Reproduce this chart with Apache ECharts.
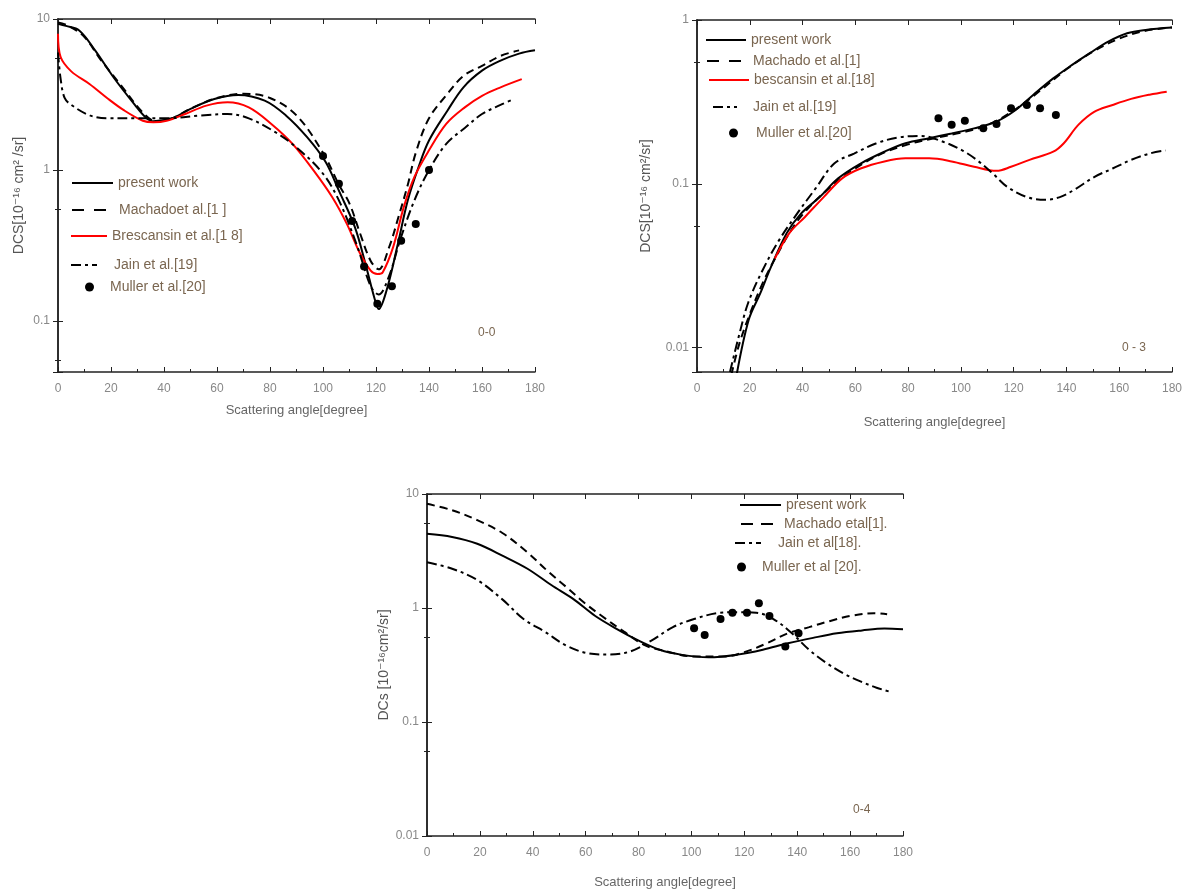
<!DOCTYPE html>
<html>
<head>
<meta charset="utf-8">
<script src="https://cdn.jsdelivr.net/npm/echarts@6/dist/echarts.min.js"></script>
<style>
  html, body { margin: 0; padding: 0; background: #fff; }
  #chart { width: 1187px; height: 890px; }
</style>
</head>
<body>
<div id="chart"></div>
<script>
// ---- panel 0-0 ----
var p1PresentX = [0, 3, 8, 14, 21, 29, 33, 36, 43, 50, 59, 68, 78, 86, 94, 101, 106, 112, 116, 119.5, 121, 124, 128, 132, 136, 140, 147, 153, 160, 167, 174, 180];
var p1PresentY = [9.3, 9.0, 8.4, 6.2, 4.1, 2.7, 2.24, 2.1, 2.2, 2.54, 2.95, 3.14, 2.88, 2.3, 1.65, 1.13, 0.73, 0.42, 0.24, 0.14, 0.12, 0.16, 0.31, 0.63, 1.04, 1.57, 2.48, 3.53, 4.55, 5.3, 5.9, 6.2];
var p1MachadoX = [0, 4, 10, 16, 24, 32, 37, 43, 50, 60, 70, 80, 90, 100, 106, 110, 114, 118, 121, 125, 128.5, 132, 135, 140, 147, 153, 160, 167, 174];
var p1MachadoY = [9.5, 9.0, 7.6, 5.4, 3.6, 2.4, 2.1, 2.2, 2.55, 3.0, 3.2, 3.0, 2.3, 1.3, 0.8, 0.6, 0.38, 0.25, 0.22, 0.31, 0.49, 0.8, 1.3, 2.2, 3.2, 4.2, 4.9, 5.7, 6.2];
var p1BrescX = [0, 1, 5, 12, 18.5, 25, 32, 36, 41, 48, 56, 64, 72, 80.5, 88.5, 96.5, 103.5, 109, 114, 118, 120.5, 122.5, 126.5, 130.5, 134.5, 140, 146.5, 153.5, 160, 167, 175];
var p1BrescY = [8.0, 5.6, 4.5, 3.7, 3.0, 2.48, 2.12, 2.07, 2.12, 2.35, 2.67, 2.81, 2.6, 2.02, 1.49, 0.99, 0.66, 0.44, 0.28, 0.216, 0.205, 0.21, 0.31, 0.57, 0.9, 1.35, 2.02, 2.6, 3.1, 3.53, 4.0];
var p1JainX = [0, 1, 2.5, 5, 12, 18.5, 30, 41, 54, 64, 72, 82, 90, 99.5, 106, 113, 118, 121, 125, 129, 134.5, 140, 146.5, 153.5, 160, 167, 172];
var p1JainY = [6.0, 4.0, 3.0, 2.7, 2.3, 2.2, 2.2, 2.2, 2.3, 2.35, 2.2, 1.78, 1.41, 0.97, 0.63, 0.31, 0.17, 0.15, 0.2, 0.34, 0.63, 1.0, 1.49, 1.9, 2.35, 2.7, 2.95];
var p1MullerX = [100, 106, 111, 115.5, 120.5, 126, 129.5, 135, 140];
var p1MullerY = [1.24, 0.81, 0.46, 0.23, 0.13, 0.17, 0.34, 0.44, 1.0];

// ---- panel 0-3 ----
var p2PresentX = [15, 19.6, 24, 28, 34, 39.5, 46.5, 53.5, 62, 71, 79, 88, 96.5, 105, 113.5, 120.5, 127.5, 135, 142, 149, 156, 163, 170, 180];
var p2PresentY = [0.0068, 0.0148, 0.0215, 0.031, 0.05, 0.066, 0.083, 0.108, 0.133, 0.157, 0.177, 0.19, 0.203, 0.218, 0.24, 0.28, 0.35, 0.44, 0.53, 0.63, 0.74, 0.83, 0.87, 0.9];
var p2MachadoX = [13, 16, 20, 25, 30, 35, 40, 50, 60, 70, 80, 90, 100, 110, 120, 130, 140, 150, 160, 170, 180];
var p2MachadoY = [0.0068, 0.0105, 0.016, 0.025, 0.036, 0.05, 0.065, 0.094, 0.124, 0.153, 0.174, 0.19, 0.205, 0.228, 0.28, 0.37, 0.5, 0.64, 0.77, 0.86, 0.9];
var p2BrescX = [29.5, 35, 41, 48, 55, 62, 71, 79, 88, 96.5, 105, 113.5, 119, 126, 135, 139, 144.5, 150.5, 157.5, 164.5, 171.5, 178];
var p2BrescY = [0.035, 0.05, 0.063, 0.083, 0.108, 0.124, 0.137, 0.143, 0.143, 0.137, 0.127, 0.12, 0.127, 0.14, 0.157, 0.177, 0.229, 0.275, 0.303, 0.33, 0.35, 0.365];
var p2JainX = [12.5, 16, 19.5, 25, 31, 38, 45, 52, 59.5, 68, 76.5, 85, 93.5, 100.5, 106, 112, 117.5, 125, 132, 137.5, 143, 150.5, 157.5, 164.5, 171.5, 177.5];
var p2JainY = [0.0071, 0.012, 0.019, 0.03, 0.045, 0.066, 0.094, 0.133, 0.153, 0.177, 0.192, 0.196, 0.18, 0.16, 0.14, 0.116, 0.096, 0.083, 0.08, 0.083, 0.092, 0.11, 0.124, 0.14, 0.153, 0.16];
var p2MullerX = [91.5, 96.5, 101.5, 108.5, 113.5, 119, 125, 130, 136];
var p2MullerY = [0.251, 0.229, 0.243, 0.218, 0.232, 0.289, 0.303, 0.289, 0.263];

// ---- panel 0-4 ----
var p3PresentX = [0, 9.5, 19, 28.5, 38, 47, 55.5, 63.5, 71.5, 79.5, 88, 96, 106.5, 117.5, 127, 136.5, 146, 155, 164.5, 173, 180];
var p3PresentY = [4.47, 4.2, 3.66, 2.88, 2.21, 1.59, 1.19, 0.855, 0.66, 0.525, 0.43, 0.39, 0.37, 0.39, 0.43, 0.49, 0.547, 0.6, 0.636, 0.66, 0.65];
var p3MachadoX = [0, 9.5, 19, 28.5, 38, 46, 52.5, 59.5, 66, 74.5, 82.5, 90.5, 101, 112, 120, 128.5, 136.5, 144.5, 152.5, 160.5, 169, 174];
var p3MachadoY = [8.2, 7.2, 5.9, 4.55, 3.07, 2.07, 1.54, 1.11, 0.855, 0.62, 0.47, 0.417, 0.375, 0.375, 0.41, 0.49, 0.6, 0.68, 0.77, 0.855, 0.9, 0.88];
var p3JainX = [0, 9.5, 19, 28.5, 36.5, 44.5, 52.5, 61, 69, 77, 85, 93, 101, 109.5, 117.5, 124.5, 131, 138, 144.5, 151, 158, 164.5, 170, 175.5];
var p3JainY = [2.52, 2.21, 1.76, 1.19, 0.8, 0.62, 0.47, 0.4, 0.39, 0.417, 0.52, 0.68, 0.8, 0.9, 0.92, 0.91, 0.8, 0.6, 0.43, 0.33, 0.263, 0.224, 0.2, 0.183];
var p3MullerX = [101, 105, 111, 115.5, 121, 125.5, 129.5, 135.5, 140.5];
var p3MullerY = [0.665, 0.58, 0.8, 0.91, 0.91, 1.1, 0.85, 0.46, 0.6];

var xTicks = [0, 20, 40, 60, 80, 100, 120, 140, 160, 180];
var yRanges = [[0.046, 10], [0.0071, 1], [0.01, 10]];

var FONT = '"Liberation Sans", Arial, "DejaVu Sans", sans-serif';
var LEG_COLOR = '#7a6650';
var AX_COLOR = '#222';

function pairs(xs, ys) {
  return xs.map(function (x, i) { return [x, ys[i]]; });
}

function decadeLabel(v) {
  var l = Math.log10(v);
  if (Math.abs(l - Math.round(l)) > 1e-6) return '';
  return String(Math.pow(10, Math.round(l)));
}

var grids = [
  { left: 58, top: 19, width: 477, height: 353 },
  { left: 697, top: 20, width: 475, height: 352 },
  { left: 427, top: 494, width: 476, height: 342 }
];
var xNameGap = [32, 44, 40];
var yNameGap = [32, 44, 36];
var yNames = ['DCS[10⁻¹⁶ cm² /sr]', 'DCS[10⁻¹⁶ cm²/sr]', 'DCs [10⁻¹⁶cm²/sr]'];

var xAxes = [], yAxes = [];
grids.forEach(function (g, i) {
  xAxes.push({
    type: 'value', gridIndex: i, position: 'bottom',
    min: xTicks[0], max: xTicks[xTicks.length - 1], interval: 20,
    name: 'Scattering angle[degree]', nameLocation: 'middle', nameGap: xNameGap[i],
    nameTextStyle: { color: '#666', fontSize: 13, fontFamily: FONT },
    axisLine: { lineStyle: { color: AX_COLOR, width: 1.5 } },
    axisTick: { inside: true, length: 5, lineStyle: { color: AX_COLOR } },
    minorTick: { show: true, splitNumber: 2, length: 3, lineStyle: { color: AX_COLOR } },
    axisLabel: { color: '#888', fontSize: 12, fontFamily: FONT, margin: 11 },
    splitLine: { show: false }
  });
  xAxes.push({
    type: 'value', gridIndex: i, position: 'top',
    min: 0, max: 180, interval: 20,
    axisLine: { lineStyle: { color: AX_COLOR, width: 1.5 } },
    axisTick: { inside: true, length: 5, lineStyle: { color: AX_COLOR } },
    axisLabel: { show: false },
    splitLine: { show: false }
  });
  yAxes.push({
    type: 'log', logBase: 10, gridIndex: i, position: 'left',
    min: yRanges[i][0], max: yRanges[i][1],
    name: yNames[i], nameLocation: 'middle', nameGap: yNameGap[i],
    nameTextStyle: { color: '#555', fontSize: 14, fontFamily: FONT },
    axisLine: { lineStyle: { color: AX_COLOR, width: 1.5 } },
    axisTick: { inside: true, length: 5, lineStyle: { color: AX_COLOR } },
    minorTick: { show: true, splitNumber: 2, length: 3, lineStyle: { color: AX_COLOR } },
    axisLabel: { color: '#888', fontSize: 12, fontFamily: FONT, margin: 8, formatter: decadeLabel },
    splitLine: { show: false }
  });
  yAxes.push({
    type: 'log', logBase: 10, gridIndex: i, position: 'right',
    min: yRanges[i][0], max: yRanges[i][1],
    axisLine: { lineStyle: { color: AX_COLOR, width: 1.5 } },
    axisTick: { inside: true, length: 5, lineStyle: { color: AX_COLOR } },
    minorTick: { show: true, splitNumber: 2, length: 3, lineStyle: { color: AX_COLOR } },
    axisLabel: { show: false },
    splitLine: { show: false }
  });
});

var SOLID = 'solid', DASH = [8, 5], DASHDOT = [10, 4, 3, 4];

function line(name, p, xs, ys, color, type) {
  return {
    name: name, type: 'line', xAxisIndex: 2 * p, yAxisIndex: 2 * p,
    data: pairs(xs, ys), symbol: 'none', smooth: 0.35,
    lineStyle: { color: color, width: 2, type: type },
    itemStyle: { color: color }, z: 3
  };
}
function dots(name, p, xs, ys) {
  return {
    name: name, type: 'scatter', xAxisIndex: 2 * p, yAxisIndex: 2 * p,
    data: pairs(xs, ys), symbol: 'circle', symbolSize: 8,
    itemStyle: { color: '#000', opacity: 1 }, z: 4
  };
}

var series = [
  line('present work', 0, p1PresentX, p1PresentY, '#000', SOLID),
  line('Machadoet al.[1 ]', 0, p1MachadoX, p1MachadoY, '#000', DASH),
  line('Brescansin et al.[1 8]', 0, p1BrescX, p1BrescY, '#ff0000', SOLID),
  line('Jain et al.[19]', 0, p1JainX, p1JainY, '#000', DASHDOT),
  dots('Muller et al.[20]', 0, p1MullerX, p1MullerY),

  line('present work', 1, p2PresentX, p2PresentY, '#000', SOLID),
  line('Machado et al.[1]', 1, p2MachadoX, p2MachadoY, '#000', DASH),
  line('bescansin et al.[18]', 1, p2BrescX, p2BrescY, '#ff0000', SOLID),
  line('Jain et al.[19]', 1, p2JainX, p2JainY, '#000', DASHDOT),
  dots('Muller et al.[20]', 1, p2MullerX, p2MullerY),

  line('present work', 2, p3PresentX, p3PresentY, '#000', SOLID),
  line('Machado etal[1].', 2, p3MachadoX, p3MachadoY, '#000', DASH),
  line('Jain et al[18].', 2, p3JainX, p3JainY, '#000', DASHDOT),
  dots('Muller et al [20].', 2, p3MullerX, p3MullerY)
];

// one legend per entry so each row sits where the original has it
function legendItem(name, iconLeft, cy, iconW, textX, dot, dash) {
  var lg = {
    data: dot ? [{ name: name, icon: 'circle' }] : [name],
    left: iconLeft, top: cy - 7, padding: 0,
    itemWidth: iconW, itemHeight: dot ? 9 : 14, itemGap: 0, selectedMode: false,
    textStyle: {
      color: LEG_COLOR, fontSize: 14, fontFamily: FONT,
      padding: [0, 0, 0, Math.max(0, textX - iconLeft - iconW - 5)]
    }
  };
  if (dot) {
    lg.itemStyle = { color: '#000', opacity: 1 };
  } else {
    // hide the symbol drawn in the middle of the line icon
    lg.itemStyle = { opacity: 0 };
    if (dash) lg.lineStyle = { type: dash };
  }
  return lg;
}

var legends = [
  legendItem('present work', 71, 183, 41, 117),
  legendItem('Machadoet al.[1 ]', 71, 210, 36, 118, false, [12, 10]),
  legendItem('Brescansin et al.[1 8]', 70, 236, 36, 111),
  legendItem('Jain et al.[19]', 70, 265, 26, 113),
  legendItem('Muller et al.[20]', 85, 287, 9, 110, true),

  legendItem('present work', 705, 40, 40, 749),
  legendItem('Machado et al.[1]', 706, 61, 36, 752, false, [12, 10]),
  legendItem('bescansin et al.[18]', 708, 80, 40, 753),
  legendItem('Jain et al.[19]', 712, 107, 24, 752),
  legendItem('Muller et al.[20]', 729, 133, 9, 756, true),

  legendItem('present work', 739, 505, 41, 782),
  legendItem('Machado etal[1].', 740, 524, 32, 783, false, [12, 8]),
  legendItem('Jain et al[18].', 734, 543, 26, 777),
  legendItem('Muller et al [20].', 737, 567, 9, 762, true)
];

var chart = echarts.init(document.getElementById('chart'), null, { renderer: 'canvas' });
chart.setOption({
  animation: false,
  backgroundColor: '#fff',
  grid: grids,
  xAxis: xAxes,
  yAxis: yAxes,
  legend: legends,
  series: series,
  graphic: [
    { type: 'text', left: 478, top: 327, style: { text: '0-0', fill: LEG_COLOR, font: '12px ' + FONT } },
    { type: 'text', left: 1122, top: 342, style: { text: '0 - 3', fill: LEG_COLOR, font: '12px ' + FONT } },
    { type: 'text', left: 853, top: 804, style: { text: '0-4', fill: LEG_COLOR, font: '12px ' + FONT } }
  ]
});
</script>
</body>
</html>
